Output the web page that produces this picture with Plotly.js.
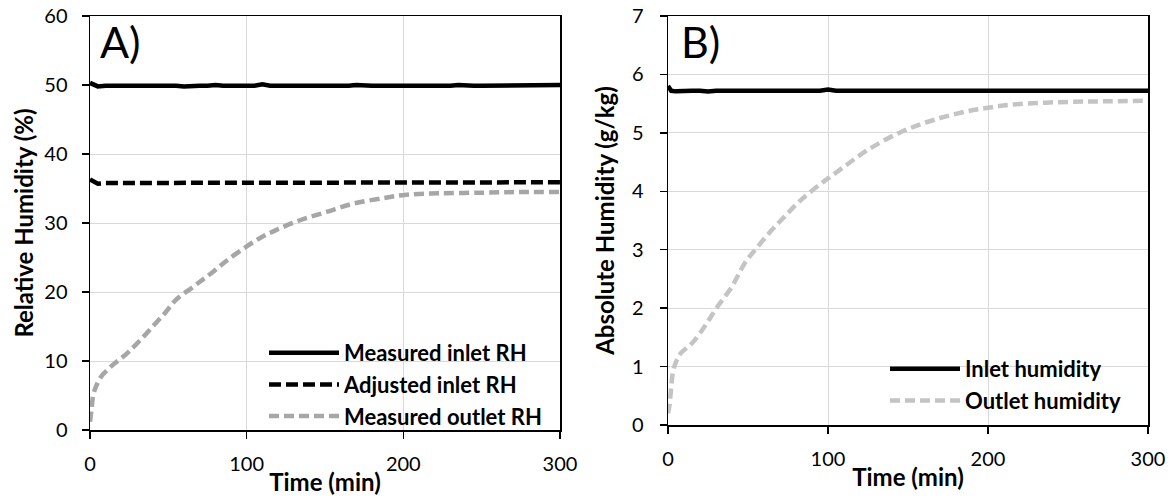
<!DOCTYPE html>
<html>
<head>
<meta charset="utf-8">
<script src="https://cdn.plot.ly/plotly-3.0.1.min.js"></script>
<style>html,body{margin:0;padding:0;background:#fff;}#chart{width:1174px;height:499px;}</style>
</head>
<body>
<div id="chart"></div>
<script>
// ---- Panel A data ----
const timeInletA = [0,5,10,15,20,25,30,35,40,45,50,55,60,65,70,75,80,85,90,95,100,105,110,115,120,125,130,135,140,145,150,155,160,165,170,175,180,185,190,195,200,205,210,215,220,225,230,235,240,245,250,255,260,265,270,275,280,285,290,295,300];
const measuredInletRH = [50.3,49.8,49.9,49.9,49.9,49.9,50.0,49.9,49.9,49.9,49.9,49.9,49.8,49.9,49.9,49.9,50.0,49.9,49.9,49.9,49.9,49.9,50.1,49.9,49.9,49.9,49.9,49.9,49.8,49.9,49.9,49.9,49.9,49.9,50.0,49.9,49.9,49.9,49.9,49.9,49.9,49.9,49.9,49.9,49.8,49.9,49.9,50.0,49.9,49.9,49.9,49.9,49.9,49.9,50.0,49.9,49.9,49.9,49.9,50.0,50.0];
const adjustedInletRH = [36.3,35.7,35.8,35.8,35.8,35.8,35.8,35.8,35.8,35.8,35.8,35.9,35.8,35.8,35.8,35.8,35.8,35.8,35.8,35.8,35.9,35.9,35.8,35.8,35.8,35.8,35.8,35.8,35.8,35.8,35.8,35.8,35.8,35.8,35.8,35.8,35.9,35.8,35.8,35.8,35.9,35.9,35.9,35.9,35.9,35.9,35.9,35.9,35.9,35.9,35.9,35.9,35.9,35.9,35.9,35.9,35.9,35.9,35.9,35.9,35.9];
const timeOutletA = [0,1,2,4,7,12,16,20,25,32,40,48,55,65,72,79,87,100,110,119,134,151,168,187,202,223,251,275,300];
const measuredOutletRH = [1.2,3.0,5.0,6.4,7.7,8.9,9.7,10.4,11.4,13.0,15.0,17.0,18.9,20.6,21.8,23.0,24.5,26.6,28.0,29.0,30.4,31.6,32.8,33.6,34.1,34.3,34.4,34.5,34.5];

// ---- Panel B data ----
const timeInletB = [0,2,5,10,15,20,25,30,35,40,45,50,55,60,65,70,75,80,85,90,95,100,105,110,115,120,125,130,135,140,145,150,155,160,165,170,175,180,185,190,195,200,205,210,215,220,225,230,235,240,245,250,255,260,265,270,275,280,285,290,295,300];
const inletHumidity = [5.80,5.72,5.71,5.72,5.72,5.72,5.71,5.72,5.72,5.72,5.72,5.71,5.72,5.72,5.72,5.72,5.72,5.71,5.72,5.72,5.72,5.74,5.72,5.72,5.72,5.72,5.72,5.71,5.72,5.72,5.72,5.72,5.72,5.72,5.72,5.71,5.72,5.72,5.72,5.72,5.72,5.72,5.72,5.72,5.72,5.72,5.71,5.72,5.72,5.72,5.72,5.72,5.72,5.72,5.71,5.72,5.72,5.72,5.72,5.72,5.72,5.72];
const timeOutletB = [0,1,3,5,8,15,23,31,40,48,56,65,73,83,96,100,110,125,146,166,187,200,218,250,275,300];
const outletHumidity = [0.2,0.35,0.89,1.08,1.23,1.40,1.69,2.03,2.37,2.77,3.05,3.34,3.57,3.85,4.14,4.22,4.42,4.71,5.02,5.22,5.37,5.43,5.49,5.53,5.54,5.55];

const xTicks = [0,100,200,300];
const FONT = 'Lato, "Open Sans", sans-serif';

const traces = [
  {x: timeInletA, y: measuredInletRH, xaxis:'x', yaxis:'y', mode:'lines', name:'Measured inlet RH',
   line:{color:'#000000', width:4.5}, legend:'legend'},
  {x: timeInletA, y: adjustedInletRH, xaxis:'x', yaxis:'y', mode:'lines', name:'Adjusted inlet RH',
   line:{color:'#000000', width:4.5, dash:'12px,5px'}, legend:'legend'},
  {x: timeOutletA, y: measuredOutletRH, xaxis:'x', yaxis:'y', mode:'lines', name:'Measured outlet RH',
   line:{color:'#A6A6A6', width:4.5, dash:'10px,5px', shape:'spline'}, legend:'legend'},
  {x: timeInletB, y: inletHumidity, xaxis:'x2', yaxis:'y2', mode:'lines', name:'Inlet humidity',
   line:{color:'#000000', width:4.5}, legend:'legend2'},
  {x: timeOutletB, y: outletHumidity, xaxis:'x2', yaxis:'y2', mode:'lines', name:'Outlet humidity',
   line:{color:'#C4C4C4', width:4.5, dash:'10px,5px', shape:'spline'}, legend:'legend2'}
];

const axisCommon = {
  showline:true, linecolor:'#000', linewidth:1.5, mirror:true,
  showgrid:true, gridcolor:'#D9D9D9', gridwidth:1, zeroline:false,
  ticks:'outside', ticklen:7, tickwidth:1.5, tickcolor:'#000',
  tickfont:{family:FONT, size:20, color:'#000'}
};
const W = 1174, H = 499;
const titleFont = {family:FONT, size:24, weight:'bold', color:'#000'};
const legFont = {family:FONT, size:22, weight:'bold', color:'#000'};

const layout = {
  width:W, height:H, margin:{l:0,r:0,t:0,b:0},
  paper_bgcolor:'#fff', plot_bgcolor:'#fff',
  font:{family:FONT, color:'#000'},
  xaxis: Object.assign({}, axisCommon, {domain:[90/W, 560/W], range:[0,300], tickvals:xTicks, anchor:'y',
    ticklabelstandoff:8, title:{text:'Time (min)', font:titleFont, standoff:0}}),
  yaxis: Object.assign({}, axisCommon, {domain:[1-430/H, 1-16/H], range:[0,60], dtick:10, anchor:'x',
    ticklabelstandoff:10, title:{text:'Relative Humidity (%)', font:titleFont, standoff:4}}),
  xaxis2: Object.assign({}, axisCommon, {domain:[668/W, 1148/W], range:[0,300], tickvals:xTicks, anchor:'y2',
    ticklabelstandoff:8, title:{text:'Time (min)', font:titleFont, standoff:0}}),
  yaxis2: Object.assign({}, axisCommon, {domain:[1-425/H, 1-16/H], range:[0,7], dtick:1, anchor:'x2',
    ticklabelstandoff:12, title:{text:'Absolute Humidity (g/kg)', font:titleFont, standoff:10}}),
  legend: {x:264/W, y:1-332/H, xanchor:'left', yanchor:'top', bgcolor:'rgba(0,0,0,0)',
    font:legFont, itemwidth:70, tracegroupgap:0},
  legend2: {x:885/W, y:1-348/H, xanchor:'left', yanchor:'top', bgcolor:'rgba(0,0,0,0)',
    font:legFont, itemwidth:70, tracegroupgap:0},
  showlegend:true,
  annotations:[
    {text:'A)', xref:'x domain', yref:'y domain', x:0.017, y:1.005, xanchor:'left', yanchor:'top',
     showarrow:false, font:{family:FONT, size:43, color:'#000'}},
    {text:'B)', xref:'x2 domain', yref:'y2 domain', x:0.022, y:1.005, xanchor:'left', yanchor:'top',
     showarrow:false, font:{family:FONT, size:43, color:'#000'}}
  ]
};

Plotly.newPlot('chart', traces, layout, {staticPlot:true, displayModeBar:false});
</script>
</body>
</html>
